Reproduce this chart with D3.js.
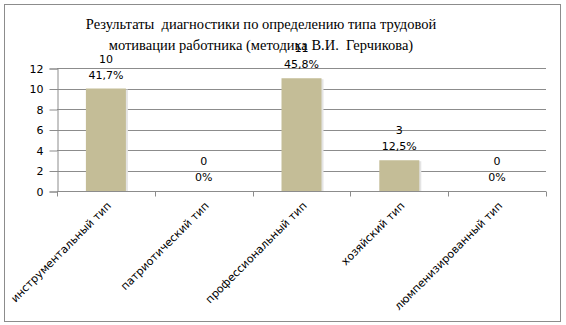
<!DOCTYPE html>
<html>
<head>
<meta charset="utf-8">
<script src="https://cdn.jsdelivr.net/npm/d3@7"></script>
<style>
  body { margin: 0; background: #fff; }
  svg { display: block; }
  .tick text { font-family: "DejaVu Sans", Verdana, sans-serif; font-size: 11px; fill: #000; }
  .lbl { font-family: "DejaVu Sans", Verdana, sans-serif; font-size: 11px; fill: #000; }
  .title { font-family: "Times New Roman", Times, "Liberation Serif", "DejaVu Serif", serif; font-size: 14.5px; fill: #000; white-space: pre; }
</style>
</head>
<body>
<svg id="chart" width="566" height="325"></svg>
<script>
var categories = ['инструментальный тип', 'патриотический тип', 'профессиональный тип', 'хозяйский тип', 'люмпенизированный тип'];
var counts = [10, 0, 11, 3, 0];
var percents = ['41,7%', '0%', '45,8%', '12,5%', '0%'];
var yTicks = [0, 2, 4, 6, 8, 10, 12];
var titleLines = ['Результаты  диагностики по определению типа трудовой', 'мотивации работника (методика В.И.  Герчикова)'];

var svg = d3.select('#chart');

// outer frame
svg.append('rect')
  .attr('x', 4.5).attr('y', 4.5)
  .attr('width', 556).attr('height', 317)
  .attr('fill', '#fff').attr('stroke', '#8c8c8c');

var margin = { left: 57, right: 546, top: 68, bottom: 191 };

var x = d3.scaleBand()
  .domain(categories)
  .range([margin.left, margin.right]);

var y = d3.scaleLinear()
  .domain([0, 12])
  .range([margin.bottom, margin.top]);

// gridlines
svg.append('g')
  .selectAll('line')
  .data(yTicks.filter(function(d) { return d > 0; }))
  .enter().append('line')
  .attr('x1', margin.left).attr('x2', margin.right)
  .attr('y1', function(d) { return Math.round(y(d)) + 0.5; })
  .attr('y2', function(d) { return Math.round(y(d)) + 0.5; })
  .attr('stroke', '#8c8c8c');

// y axis
var yAxis = svg.append('g')
  .attr('transform', 'translate(' + (margin.left + 0.5) + ',0.5)')
  .call(d3.axisLeft(y).tickValues(yTicks).tickSize(8).tickPadding(6));
yAxis.select('.domain').attr('stroke', '#8c8c8c');
yAxis.selectAll('.tick line').attr('stroke', '#8c8c8c');

// x axis
var xAxis = svg.append('g')
  .attr('transform', 'translate(0,' + (Math.round(margin.bottom) + 0.5) + ')');
xAxis.append('line')
  .attr('x1', margin.left).attr('x2', margin.right)
  .attr('stroke', '#8c8c8c');
var edges = categories.map(function(c) { return x(c); }).concat([margin.right]);
xAxis.selectAll('line.tk')
  .data(edges)
  .enter().append('line')
  .attr('class', 'tk')
  .attr('x1', function(d) { return Math.round(d) + 0.5; })
  .attr('x2', function(d) { return Math.round(d) + 0.5; })
  .attr('y1', 0).attr('y2', 5)
  .attr('stroke', '#8c8c8c');

xAxis.selectAll('text')
  .data(categories)
  .enter().append('text')
  .attr('class', 'lbl')
  .attr('text-anchor', 'end')
  .attr('transform', function(d) {
    return 'translate(' + (x(d) + x.bandwidth() / 2 + 6) + ',15) rotate(-45)';
  })
  .text(function(d) { return d; });

// bars
var bw = 40;
var bars = svg.append('g');
bars.selectAll('rect.shadow')
  .data(counts)
  .enter().append('rect')
  .attr('class', 'shadow')
  .attr('x', function(d, i) { return x(categories[i]) + x.bandwidth() / 2 - bw / 2 + 2; })
  .attr('y', function(d) { return y(d) + 1; })
  .attr('width', bw)
  .attr('height', function(d) { return Math.max(0, y(0) - y(d) - 1); })
  .attr('fill', '#e4e4e4');
bars.selectAll('rect.bar')
  .data(counts)
  .enter().append('rect')
  .attr('class', 'bar')
  .attr('x', function(d, i) { return x(categories[i]) + x.bandwidth() / 2 - bw / 2; })
  .attr('y', function(d) { return y(d); })
  .attr('width', bw)
  .attr('height', function(d) { return y(0) - y(d); })
  .attr('fill', '#c4bd97');

// data labels
var labels = svg.append('g');
labels.selectAll('text.val')
  .data(counts)
  .enter().append('text')
  .attr('class', 'lbl')
  .attr('text-anchor', 'middle')
  .attr('x', function(d, i) { return x(categories[i]) + x.bandwidth() / 2; })
  .attr('y', function(d) { return y(d) - 26; })
  .text(function(d) { return d; });
labels.selectAll('text.pct')
  .data(percents)
  .enter().append('text')
  .attr('class', 'lbl')
  .attr('text-anchor', 'middle')
  .attr('x', function(d, i) { return x(categories[i]) + x.bandwidth() / 2; })
  .attr('y', function(d, i) { return y(counts[i]) - 10; })
  .text(function(d) { return d; });

// title
svg.append('g').selectAll('text')
  .data(titleLines)
  .enter().append('text')
  .attr('class', 'title')
  .attr('text-anchor', 'middle')
  .attr('x', 261)
  .attr('y', function(d, i) { return 29 + i * 21; })
  .text(function(d) { return d; });
</script>
</body>
</html>
